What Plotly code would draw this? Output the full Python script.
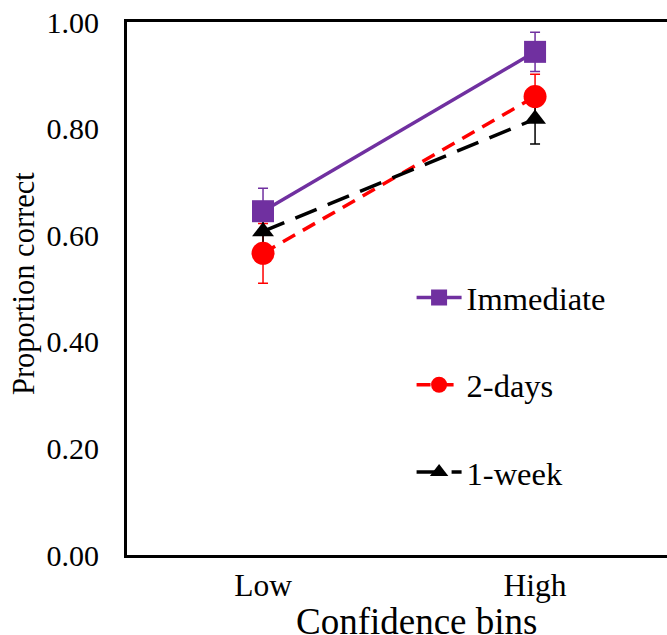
import plotly.graph_objects as go

categories = ["Low", "High"]
series_names = ["Immediate", "2-days", "1-week"]
immediate = [0.645, 0.944]
immediate_err = [0.043, 0.037]
two_days = [0.566, 0.860]
two_days_err = [0.056, 0.042]
one_week = [0.607, 0.818]
one_week_err = [0.045, 0.047]
y_ticks = [0.0, 0.2, 0.4, 0.6, 0.8, 1.0]
y_ticktext = ["0.00", "0.20", "0.40", "0.60", "0.80", "1.00"]

FONT = "Liberation Serif"

styles = [
    dict(color="#7030A0", dash="solid", symbol="square", size=22),
    dict(color="#FF0000", dash="14px,9px", symbol="circle", size=23),
    dict(color="#000000", dash="23px,12px", symbol="triangle-up", size=19),
]
data = [(immediate, immediate_err), (two_days, two_days_err), (one_week, one_week_err)]

fig = go.Figure()
# error bars first, so that all markers sit on top of them
for name, (vals, errs), st in zip(series_names, data, styles):
    fig.add_trace(go.Scatter(
        x=categories, y=vals, mode="markers", showlegend=False, hoverinfo="skip",
        marker=dict(size=1, opacity=0, color=st["color"]),
        error_y=dict(type="data", array=errs, visible=True, color=st["color"],
                     thickness=1.5, width=5),
    ))
for name, (vals, errs), st in zip(series_names, data, styles):
    fig.add_trace(go.Scatter(
        x=categories, y=vals, name=name, mode="lines+markers",
        legendgroup=name,
        line=dict(color=st["color"], width=3.5, dash=st["dash"]),
        marker=dict(symbol=st["symbol"], size=st["size"], color=st["color"]),
    ))

fig.update_layout(
    width=667, height=635,
    margin=dict(l=127, r=0, t=22, b=80),
    paper_bgcolor="white", plot_bgcolor="white",
    font=dict(family=FONT, size=30, color="black"),
    showlegend=True,
    legend=dict(x=0.527, y=0.535, xanchor="left", yanchor="top",
                font=dict(family=FONT, size=32.5, color="black"),
                itemwidth=45,
                tracegroupgap=42, bgcolor="rgba(0,0,0,0)"),
    xaxis=dict(type="category", range=[-0.5, 1.485], showgrid=False,
               showline=True, linecolor="black", linewidth=3, mirror=True,
               ticks="", ticklabelstandoff=0, zeroline=False,
               tickfont=dict(family=FONT, size=31.5, color="black")),
    yaxis=dict(range=[0, 1], tickvals=y_ticks, ticktext=y_ticktext,
               showgrid=False, showline=True, linecolor="black", linewidth=3,
               ticks="", ticklabelstandoff=19, zeroline=False,
               tickfont=dict(family=FONT, size=30, color="black")),
)

fig.add_annotation(text="Confidence bins", xref="paper", yref="paper",
                   x=(416 - 127) / 540, y=-(621 - 555) / 533, xanchor="center",
                   yanchor="middle", showarrow=False,
                   font=dict(family=FONT, size=37, color="black"))
fig.add_annotation(text="Proportion correct", xref="paper", yref="paper",
                   x=-(127 - 24) / 540, y=(555 - 284) / 533, xanchor="center",
                   yanchor="middle", textangle=-90, showarrow=False,
                   font=dict(family=FONT, size=30.5, color="black"))

fig.write_html("out.html")
